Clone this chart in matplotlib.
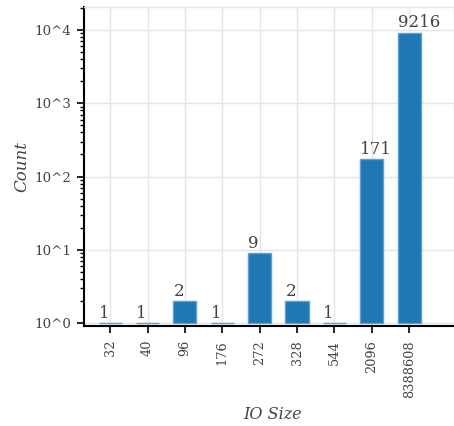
import matplotlib
matplotlib.use("Agg")
import matplotlib.pyplot as plt
from matplotlib.ticker import FixedLocator, LogLocator, NullFormatter

io_sizes = ["32", "40", "96", "176", "272", "328", "544", "2096", "8388608"]
counts = [1, 1, 2, 1, 9, 2, 1, 171, 9216]
decades = [1, 10, 100, 1000, 10000]
decade_labels = ["10^0", "10^1", "10^2", "10^3", "10^4"]

TEXT = "#444444"
GRID = "#e5e5e5"
BAR_W = 0.62

plt.rcParams["font.family"] = ["DejaVu Serif"]

fig = plt.figure(figsize=(4.54, 4.26), dpi=100)
ax = fig.add_axes([0.185, 0.2347, 0.815, 0.7489])

x = list(range(len(io_sizes)))
bars = ax.bar(x, [c - 1 for c in counts], bottom=1, width=BAR_W,
              color="#1f77b4", edgecolor="#5b9fd3", linewidth=1.0, zorder=3)

# count labels start at the left edge of each bar
for xi, c in zip(x, counts):
    ax.annotate(str(c), (xi - BAR_W / 2, c), xytext=(0, 1.0),
                textcoords="offset points", ha="left", va="bottom",
                fontsize=12, color=TEXT, zorder=4)

ax.set_yscale("log")
ax.set_ylim(0.91, 20650)
ax.set_xlim(-0.7, 9.2)

ax.set_xticks(x)
ax.set_xticklabels(io_sizes, rotation=90, fontsize=9.3, color=TEXT)
ax.yaxis.set_major_locator(FixedLocator(decades))
ax.set_yticklabels(decade_labels, fontsize=9.6, color=TEXT)
ax.yaxis.set_minor_locator(LogLocator(base=10, subs=range(2, 10), numticks=20))
ax.yaxis.set_minor_formatter(NullFormatter())

ax.tick_params(axis="both", which="major", direction="out", length=5,
               width=1.2, color="black")
ax.tick_params(axis="y", which="major", pad=4)
ax.tick_params(axis="x", which="major", pad=5)
ax.tick_params(axis="y", which="minor", direction="out", length=3,
               width=1.0, color="black")

ax.grid(True, which="major", color=GRID, linewidth=1, zorder=0)
ax.set_axisbelow(True)

for side in ("top", "right"):
    ax.spines[side].set_color(GRID)
    ax.spines[side].set_linewidth(1)
for side in ("left", "bottom"):
    ax.spines[side].set_color("black")
    ax.spines[side].set_linewidth(1.5)

ax.set_ylabel("Count", fontsize=12, style="italic", color=TEXT)
ax.set_xlabel("IO Size", fontsize=11.5, style="italic", color=TEXT)
ax.yaxis.set_label_coords(-0.146, 0.5)
ax.xaxis.set_label_coords(0.51, -0.252)

fig.savefig("out.png", dpi=100)
